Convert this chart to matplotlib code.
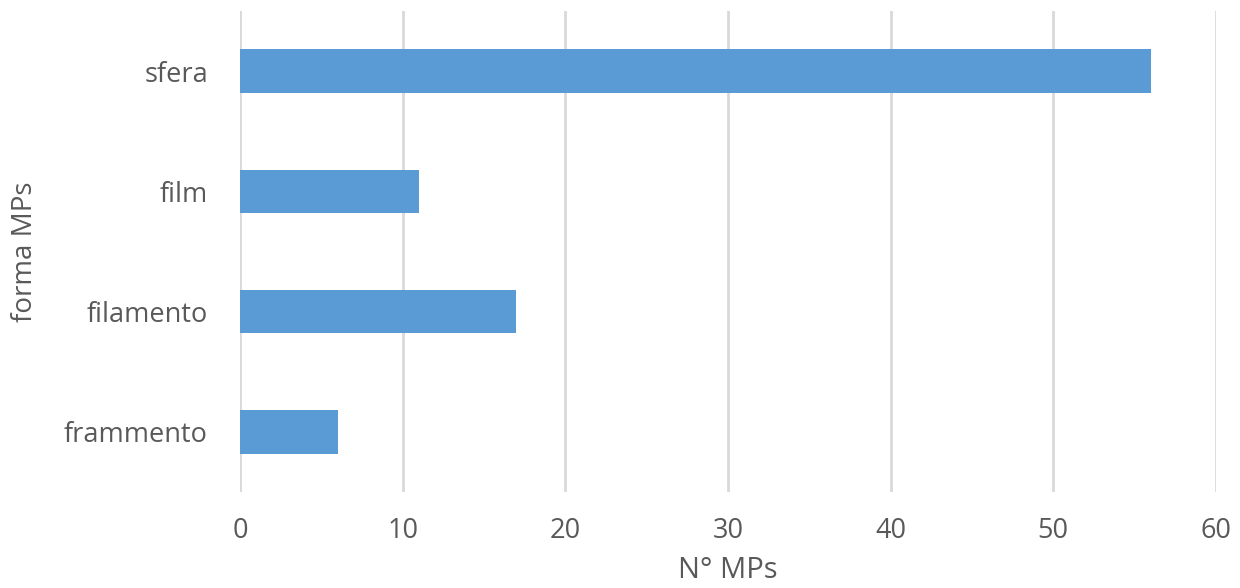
import matplotlib.pyplot as plt

# MP counts by shape
shapes = ['frammento', 'filamento', 'film', 'sfera']
counts = [6, 17, 11, 56]
x_ticks = [0, 10, 20, 30, 40, 50, 60]

BAR = '#5B9BD5'
GRID = '#D9D9D9'
TEXT = '#595959'

plt.rcParams['font.family'] = ['Open Sans', 'DejaVu Sans']

fig = plt.figure(figsize=(12.4, 5.88), dpi=100)
ax = fig.add_axes([0.1935, 0.1633, 0.7871, 0.818])

ax.barh(range(len(shapes)), counts, height=0.36, color=BAR, zorder=3)

ax.set_xlim(0, 60)
ax.set_ylim(-0.5, len(shapes) - 0.5)
ax.set_xticks(x_ticks)
ax.set_yticks(range(len(shapes)))
ax.set_yticklabels(shapes)

ax.grid(axis='x', color=GRID, linewidth=2, zorder=0)
for s in ax.spines.values():
    s.set_visible(False)
ax.tick_params(length=0, labelsize=19.5, labelcolor=TEXT)
ax.tick_params(axis='x', pad=18)
ax.tick_params(axis='y', pad=23)

ax.set_xlabel('N° MPs', fontsize=21, color=TEXT, labelpad=8)
ax.set_ylabel('forma MPs', fontsize=20, color=TEXT, labelpad=18)

fig.savefig('out.png', dpi=100)
